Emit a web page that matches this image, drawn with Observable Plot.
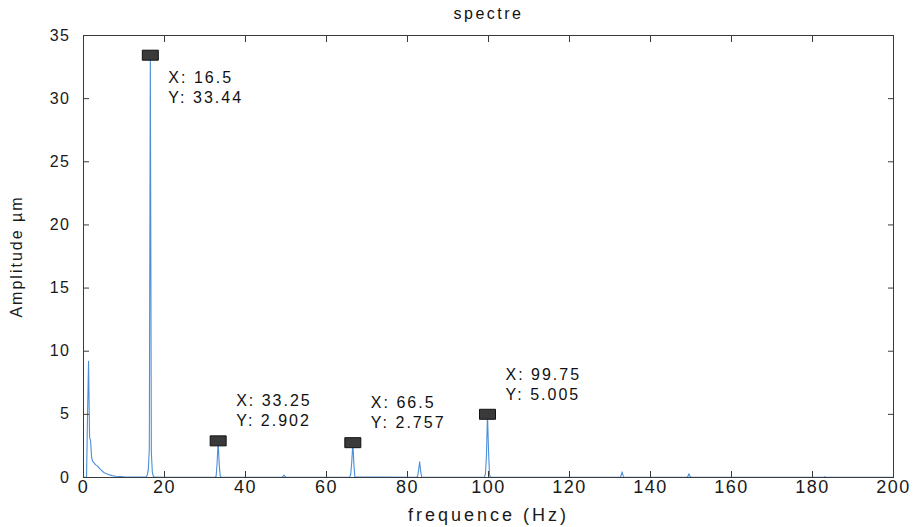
<!DOCTYPE html>
<html><head><meta charset="utf-8">
<script src="https://cdn.jsdelivr.net/npm/d3@7"></script>
<script src="https://cdn.jsdelivr.net/npm/@observablehq/plot@0.6"></script>
<style>
body{margin:0;background:#fff}
svg text{letter-spacing:1.5px}
g[aria-label="x-axis label"] text{letter-spacing:3px}
g[aria-label="y-axis label"] text{letter-spacing:2px}
g[aria-label="text"] text{letter-spacing:2px}
g[aria-label="text"].title text{letter-spacing:2.5px}
</style>
</head><body><div id="chart"></div>
<script>
const freq = [0, 0.75, 1, 1.25, 1.5, 1.75, 2, 2.25, 2.5, 3, 3.5, 4, 4.5, 5, 6, 7, 8, 10, 12,
  15.5, 15.75, 16, 16.25, 16.5, 16.75, 17, 17.25, 17.5, 20,
  32.5, 32.75, 33, 33.25, 33.5, 33.75, 34, 49, 49.25, 49.5, 49.75, 50,
  65.75, 66, 66.25, 66.5, 66.75, 67, 82.25, 82.5, 82.75, 83, 83.25, 83.5,
  99, 99.25, 99.5, 99.75, 100, 100.25, 100.5, 132.5, 132.75, 133, 133.25, 133.5,
  149, 149.25, 149.5, 149.75, 150, 182.75, 183, 183.25, 200];
const amp = [0.02, 0.02, 5.0, 9.2, 3.2, 2.9, 1.6, 1.3, 1.2, 1.0, 0.9, 0.7, 0.55, 0.4, 0.25, 0.15, 0.1, 0.05, 0.03,
  0.03, 0.2, 0.6, 2.3, 33.44, 2.0, 0.4, 0.08, 0.03, 0.02,
  0.02, 0.1, 1.2, 2.902, 1.1, 0.15, 0.02, 0.02, 0.08, 0.2, 0.08, 0.02,
  0.02, 0.3, 1.3, 2.757, 1.1, 0.05, 0.02, 0.1, 0.6, 1.25, 0.5, 0.03,
  0.02, 0.3, 1.8, 5.005, 2.2, 0.2, 0.02, 0.02, 0.15, 0.45, 0.12, 0.02,
  0.02, 0.1, 0.3, 0.1, 0.02, 0.02, 0.06, 0.02, 0.02];
const tipX = [16.5, 33.25, 66.5, 99.75];
const tipY = [33.44, 2.902, 2.757, 5.005];
const xTicks = [0, 20, 40, 60, 80, 100, 120, 140, 160, 180, 200];
const yTicks = [0, 5, 10, 15, 20, 25, 30, 35];
const title = "spectre";
const xLabel = "frequence (Hz)";
const yLabel = "Amplitude µm";

const spectrum = freq.map((f, i) => ({f, a: amp[i]}));
const tips = tipX.map((x, i) => ({x, y: tipY[i], label: `X: ${x}\nY: ${tipY[i]}`, below: i === 0}));
const box = {draw(ctx) { ctx.rect(-8, -5, 16, 10); }};
const axisColor = "#3a3a3a";

const chart = Plot.plot({
  width: 917, height: 527,
  marginLeft: 83, marginRight: 24, marginTop: 35, marginBottom: 50,
  style: {fontFamily: "'Liberation Sans', Arial, sans-serif", fontSize: "18px", color: "#1a1a1a", background: "#fff"},
  x: {domain: [0, 200]},
  y: {domain: [0, 35]},
  marks: [
    Plot.line(spectrum, {x: "f", y: "a", stroke: "#4a8fd8", strokeWidth: 1.1}),
    Plot.frame({stroke: axisColor}),
    Plot.axisX(xTicks, {anchor: "bottom", tickSize: -6, text: null, label: null, stroke: axisColor}),
    Plot.axisX(xTicks, {anchor: "top", tickSize: -6, text: null, label: null, stroke: axisColor}),
    Plot.axisY(yTicks, {anchor: "left", tickSize: -6, text: null, label: null, stroke: axisColor}),
    Plot.axisY(yTicks, {anchor: "right", tickSize: -6, text: null, label: null, stroke: axisColor}),
    Plot.axisX(xTicks, {anchor: "bottom", tickSize: 0, tickPadding: 3, label: xLabel, labelAnchor: "center", labelArrow: "none", labelOffset: 43, fontSize: 18}),
    Plot.axisY(yTicks, {anchor: "left", tickSize: 0, tickPadding: 13, label: yLabel, labelAnchor: "center", labelArrow: "none", labelOffset: 73, fontSize: 16}),
    Plot.dot(tips, {x: "x", y: "y", symbol: box, fill: "#3a3a3a", stroke: "#111", strokeWidth: 1}),
    Plot.text(tips.filter(d => d.below), {x: "x", y: "y", text: "label", textAnchor: "start", lineAnchor: "middle", lineHeight: 1.25, dx: 18, dy: 31, fontSize: 16, fill: "#111"}),
    Plot.text(tips.filter(d => !d.below), {x: "x", y: "y", text: "label", textAnchor: "start", lineAnchor: "middle", lineHeight: 1.25, dx: 18, dy: -31, fontSize: 16, fill: "#111"}),
    Plot.text([title], {frameAnchor: "top", lineAnchor: "middle", dy: -22, fontSize: 16, fill: "#111", className: "title"})
  ]
});
document.getElementById("chart").appendChild(chart);
</script>
</body></html>
